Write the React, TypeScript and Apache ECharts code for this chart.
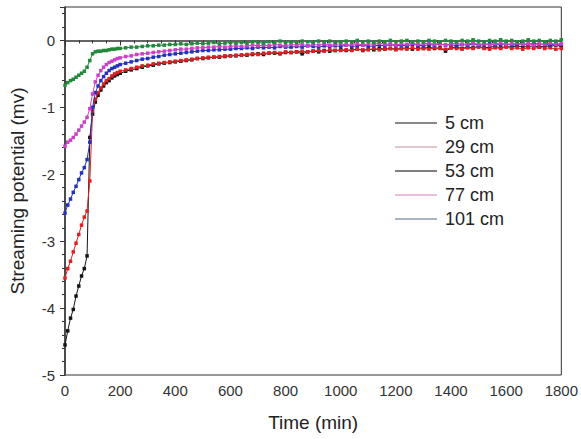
import React, { useEffect, useRef } from "react";
import * as echarts from "echarts";

const timesEarly = [0, 10, 20, 30, 40, 50, 60, 70, 80, 90, 100, 110, 120, 130, 140, 150, 160, 170, 180, 190, 200];
const timesLate = [
  220, 240, 260, 280, 300, 320, 340, 360, 380, 400,
  420, 440, 460, 480, 500, 520, 540, 560, 580, 600,
  620, 640, 660, 680, 700, 720, 740, 760, 780, 800,
  820, 840, 860, 880, 900, 920, 940, 960, 980, 1000,
  1020, 1040, 1060, 1080, 1100, 1120, 1140, 1160, 1180, 1200,
  1220, 1240, 1260, 1280, 1300, 1320, 1340, 1360, 1380, 1400,
  1420, 1440, 1460, 1480, 1500, 1520, 1540, 1560, 1580, 1600,
  1620, 1640, 1660, 1680, 1700, 1720, 1740, 1760, 1780, 1800,
];
const times = [...timesEarly, ...timesLate];

const seriesNames = ["5 cm", "29 cm", "53 cm", "77 cm", "101 cm"];

const cm5 = [
  -4.55, -4.34, -4.15, -4.02, -3.82, -3.67, -3.52, -3.41, -3.22, -1.45, -1.1, -0.92, -0.82, -0.74, -0.68, -0.63, -0.6, -0.56, -0.53, -0.51, -0.49,
  -0.46, -0.44, -0.42, -0.40, -0.38, -0.37, -0.35, -0.34, -0.33, -0.32,
  -0.31, -0.30, -0.29, -0.27, -0.27, -0.26, -0.25, -0.25, -0.24, -0.23,
  -0.23, -0.22, -0.22, -0.21, -0.20, -0.21, -0.19, -0.19, -0.20, -0.18,
  -0.18, -0.17, -0.20, -0.17, -0.16, -0.17, -0.15, -0.16, -0.15, -0.14,
  -0.15, -0.14, -0.13, -0.15, -0.13, -0.14, -0.12, -0.13, -0.12, -0.13,
  -0.12, -0.11, -0.13, -0.11, -0.12, -0.10, -0.12, -0.11, -0.16, -0.11,
  -0.10, -0.12, -0.10, -0.11, -0.09, -0.11, -0.10, -0.09, -0.11, -0.09,
  -0.10, -0.08, -0.10, -0.09, -0.08, -0.10, -0.08, -0.09, -0.07, -0.09,
];
const cm29 = [
  -3.55, -3.41, -3.3, -3.16, -3.03, -2.9, -2.76, -2.64, -2.55, -2.1, -1.05, -0.88, -0.78, -0.71, -0.65, -0.6, -0.57, -0.53, -0.5, -0.48, -0.46,
  -0.44, -0.42, -0.40, -0.38, -0.37, -0.35, -0.34, -0.33, -0.32, -0.31,
  -0.30, -0.29, -0.28, -0.27, -0.26, -0.25, -0.25, -0.24, -0.23, -0.23,
  -0.22, -0.22, -0.21, -0.20, -0.21, -0.19, -0.19, -0.18, -0.19, -0.17,
  -0.18, -0.17, -0.16, -0.17, -0.16, -0.15, -0.16, -0.14, -0.15, -0.15,
  -0.14, -0.15, -0.13, -0.14, -0.14, -0.12, -0.14, -0.13, -0.12, -0.14,
  -0.12, -0.13, -0.11, -0.13, -0.12, -0.13, -0.11, -0.12, -0.13, -0.11,
  -0.12, -0.13, -0.11, -0.12, -0.10, -0.12, -0.13, -0.11, -0.12, -0.10,
  -0.12, -0.11, -0.13, -0.11, -0.12, -0.10, -0.12, -0.11, -0.13, -0.12,
];
const cm53 = [
  -2.58, -2.46, -2.37, -2.27, -2.18, -2.08, -1.98, -1.9, -1.78, -1.52, -1.0, -0.78, -0.68, -0.6, -0.54, -0.49, -0.45, -0.42, -0.4, -0.38, -0.36,
  -0.34, -0.32, -0.30, -0.28, -0.27, -0.25, -0.24, -0.22, -0.21, -0.20,
  -0.19, -0.18, -0.17, -0.16, -0.15, -0.15, -0.14, -0.14, -0.13, -0.13,
  -0.12, -0.12, -0.11, -0.12, -0.10, -0.11, -0.10, -0.11, -0.09, -0.10,
  -0.10, -0.09, -0.10, -0.08, -0.09, -0.10, -0.08, -0.09, -0.08, -0.09,
  -0.07, -0.09, -0.08, -0.07, -0.09, -0.08, -0.07, -0.08, -0.06, -0.08,
  -0.07, -0.08, -0.06, -0.07, -0.08, -0.06, -0.07, -0.05, -0.07, -0.06,
  -0.08, -0.06, -0.07, -0.05, -0.07, -0.06, -0.05, -0.07, -0.06, -0.05,
  -0.07, -0.06, -0.05, -0.06, -0.04, -0.06, -0.05, -0.07, -0.05, -0.06,
];
const cm77 = [
  -1.58, -1.52, -1.49, -1.45, -1.4, -1.34, -1.28, -1.22, -1.15, -1.02, -0.8, -0.62, -0.52, -0.45, -0.4, -0.36, -0.33, -0.31, -0.29, -0.27, -0.26,
  -0.24, -0.23, -0.21, -0.20, -0.19, -0.18, -0.17, -0.16, -0.15, -0.14,
  -0.13, -0.13, -0.12, -0.11, -0.11, -0.10, -0.10, -0.09, -0.10, -0.09,
  -0.08, -0.09, -0.08, -0.07, -0.08, -0.07, -0.08, -0.06, -0.07, -0.08,
  -0.06, -0.07, -0.06, -0.08, -0.06, -0.07, -0.05, -0.07, -0.06, -0.05,
  -0.07, -0.06, -0.05, -0.07, -0.05, -0.06, -0.04, -0.06, -0.05, -0.07,
  -0.05, -0.06, -0.04, -0.06, -0.05, -0.04, -0.06, -0.05, -0.07, -0.05,
  -0.04, -0.06, -0.05, -0.04, -0.06, -0.05, -0.07, -0.05, -0.04, -0.06,
  -0.05, -0.04, -0.06, -0.05, -0.07, -0.05, -0.06, -0.04, -0.06, -0.05,
];
const cm101 = [
  -0.67, -0.63, -0.6, -0.58, -0.55, -0.52, -0.49, -0.46, -0.4, -0.3, -0.2, -0.17, -0.16, -0.16, -0.15, -0.15, -0.14, -0.13, -0.13, -0.12, -0.12,
  -0.11, -0.10, -0.10, -0.09, -0.08, -0.08, -0.07, -0.07, -0.06, -0.06,
  -0.05, -0.06, -0.05, -0.04, -0.05, -0.04, -0.03, -0.05, -0.04, -0.03,
  -0.04, -0.03, -0.04, -0.02, -0.03, -0.04, -0.02, -0.03, -0.01, -0.03,
  -0.02, -0.03, -0.01, -0.02, -0.03, -0.01, -0.02, -0.01, -0.03, -0.02,
  -0.01, -0.02, 0.0, -0.02, -0.01, -0.03, -0.01, -0.02, 0.0, -0.02,
  -0.01, 0.0, -0.02, -0.01, -0.02, 0.0, -0.01, -0.02, 0.0, -0.01,
  -0.02, 0.0, -0.01, 0.01, -0.01, -0.02, 0.0, -0.01, 0.01, -0.01,
  0.0, -0.02, -0.01, 0.01, -0.01, 0.0, -0.02, 0.0, -0.01, 0.01,
];

const seriesValues = [cm5, cm29, cm53, cm77, cm101];
const seriesColors = ["#151515", "#e02020", "#2233bb", "#cc40c8", "#22883a"];
const legendColors = ["#606060", "#d8b4c4", "#555555", "#e0a8d8", "#8c9cb4"];

const yTicks = [-5, -4, -3, -2, -1, 0];
const xTicks = [0, 200, 400, 600, 800, 1000, 1200, 1400, 1600, 1800];

export default function App() {
  const ref = useRef<HTMLDivElement>(null);
  useEffect(() => {
    if (!ref.current) return;
    const chart = echarts.init(ref.current, null, { renderer: "svg" });
    const font = "'Liberation Sans', Arial, sans-serif";
    chart.setOption({
      animation: false,
      backgroundColor: "#ffffff",
      grid: { left: 65, right: 19, top: 7, bottom: 64, show: true, borderColor: "#333", borderWidth: 1 },
      legend: {
        orient: "vertical",
        left: 390,
        top: 108,
        icon: "rect",
        itemWidth: 42,
        itemHeight: 1.5,
        itemGap: 4,
        textStyle: { fontFamily: font, fontSize: 18, color: "#222", lineHeight: 20, padding: [0, 0, 0, 3] },
        data: seriesNames.map((n, i) => ({ name: n, itemStyle: { color: legendColors[i] } })),
      },
      xAxis: {
        type: "value",
        min: xTicks[0],
        max: xTicks[xTicks.length - 1],
        interval: 200,
        name: "Time (min)",
        nameLocation: "middle",
        nameGap: 38,
        nameTextStyle: { fontFamily: font, fontSize: 19, color: "#222" },
        axisLine: { show: true, lineStyle: { color: "#333", width: 1.5 } },
        axisTick: { show: true, length: 5, lineStyle: { color: "#333" } },
        minorTick: { show: true, splitNumber: 4, length: 3, lineStyle: { color: "#333" } },
        splitLine: { show: false },
        axisLabel: { fontFamily: font, fontSize: 15, color: "#333", margin: 8, formatter: (v: number) => String(v) },
      },
      yAxis: {
        type: "value",
        min: yTicks[0],
        max: 0.5,
        interval: 1,
        name: "Streaming potential (mv)",
        nameLocation: "middle",
        nameGap: 38,
        nameTextStyle: { fontFamily: font, fontSize: 19, color: "#222" },
        axisLine: { show: true, lineStyle: { color: "#333", width: 1.5 } },
        axisTick: { show: true, length: 5, lineStyle: { color: "#333" } },
        minorTick: { show: true, splitNumber: 5, length: 3, lineStyle: { color: "#333" } },
        splitLine: { show: false },
        axisLabel: {
          fontFamily: font,
          fontSize: 15,
          color: "#333",
          margin: 10,
          showMaxLabel: false,
          formatter: (v: number) => (yTicks.includes(v) ? String(v) : ""),
        },
      },
      series: seriesNames.map((n, i) => ({
        name: n,
        type: "line",
        data: times.map((t, j) => [t, seriesValues[i][j]]),
        symbol: "rect",
        symbolSize: 3.5,
        showSymbol: true,
        lineStyle: { width: 1, color: seriesColors[i] },
        itemStyle: { color: seriesColors[i] },
        z: 2 + i,
      })),
    });
    return () => chart.dispose();
  }, []);
  return <div ref={ref} style={{ position: "fixed", left: 0, top: 0, width: 581, height: 439 }} />;
}
